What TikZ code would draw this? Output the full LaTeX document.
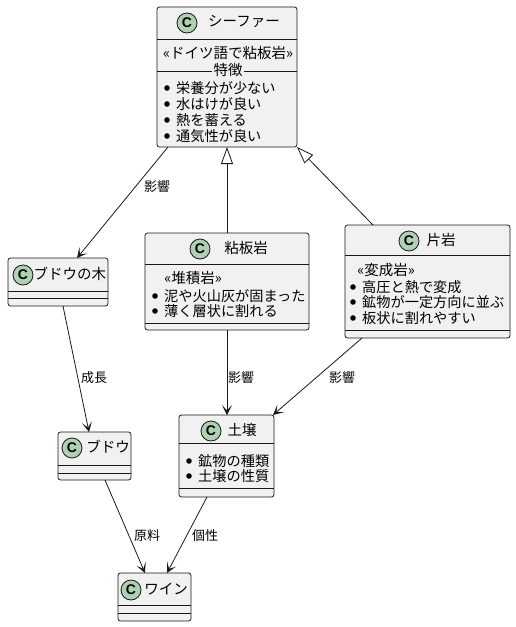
\documentclass[tikz,border=0pt]{standalone}
\usepackage{fontspec}
\setmainfont{Noto Sans CJK JP}
\newfontfamily\spotfont{Liberation Sans}
\usetikzlibrary{arrows.meta,calc}
\definecolor{boxfill}{HTML}{F1F1F1}
\definecolor{linecol}{HTML}{181818}
\definecolor{spotgreen}{HTML}{ADD1B2}
\begin{document}
\begin{tikzpicture}[x=1pt,y=-1pt,
  box/.style={draw=linecol, fill=boxfill, line width=0.8pt, rounded corners=2.5pt, inner sep=0pt, outer sep=0pt, anchor=north west},
  spot/.style={circle, draw=linecol, fill=spotgreen, line width=0.8pt, minimum size=20pt, inner sep=0pt, font=\spotfont\bfseries\fontsize{14}{14}\selectfont},
  title/.style={inner sep=0pt, font=\fontsize{14.5}{16}\selectfont, text=black},
  mem/.style={inner sep=0pt, anchor=west, font=\fontsize{14.2}{16}\selectfont, text=black},
  lab/.style={inner sep=0pt, font=\fontsize{13}{15}\selectfont, text=black},
  sep/.style={draw=linecol, line width=0.8pt},
  dep/.style={draw=linecol, line width=0.8pt, -{Stealth[length=10pt,width=10pt,inset=5.5pt]}},
  inh/.style={draw=linecol, line width=0.8pt, -{Triangle[open,length=17pt,width=12pt,fill=white]}},
  bul/.style={fill=black}
]
\useasboundingbox (0,0) rectangle (516,627);

% ---- シーファー
\node[box, minimum width=140pt, minimum height=140pt] (sch) at (157,7) {};
\node[spot] (schC) at (187,23) {C};
\node[title] (schT) at (244,22) {シーファー};
\draw[sep] (157,39) -- (297,39);
\node[title] (schS) at (228,53) {«ドイツ語で粘板岩»};
\draw[sep] (157,71) -- (212,71);
\draw[sep] (244,71) -- (297,71);
\node[title] (schF) at (228,70) {特徴};
\fill[bul] (167,88) circle (2.8pt);
\node[mem] at (176,88) {栄養分が少ない};
\fill[bul] (167,104) circle (2.8pt);
\node[mem] at (176,104) {水はけが良い};
\fill[bul] (167,120) circle (2.8pt);
\node[mem] at (176,120) {熱を蓄える};
\fill[bul] (167,136) circle (2.8pt);
\node[mem] at (176,136) {通気性が良い};

% ---- 粘板岩
\node[box, minimum width=164pt, minimum height=97pt] (slate) at (145,233) {};
\node[spot] at (200,249) {C};
\node[title] at (246,248) {粘板岩};
\draw[sep] (145,264) -- (309,264);
\node[title] at (193,278) {«堆積岩»};
\fill[bul] (155,296) circle (2.8pt);
\node[mem] at (164,296) {泥や火山灰が固まった};
\fill[bul] (155,311) circle (2.8pt);
\node[mem] at (164,311) {薄く層状に割れる};
\draw[sep] (145,323) -- (309,323);

% ---- ブドウの木
\node[box, minimum width=100pt, minimum height=48pt] (tree) at (8,258) {};
\node[spot] at (23,275) {C};
\node[title] at (70,274) {ブドウの木};
\draw[sep] (8,291) -- (108,291);
\draw[sep] (8,298) -- (108,298);

% ---- 片岩
\node[box, minimum width=165pt, minimum height=113pt] (schist) at (345,225) {};
\node[spot] at (409,241) {C};
\node[title] at (441,240) {片岩};
\draw[sep] (345,255) -- (510,255);
\node[title] at (386,270) {«変成岩»};
\fill[bul] (353,287) circle (2.8pt);
\node[mem] at (362,287) {高圧と熱で変成};
\fill[bul] (353,302) circle (2.8pt);
\node[mem] at (362,302) {鉱物が一定方向に並ぶ};
\fill[bul] (353,318) circle (2.8pt);
\node[mem] at (362,318) {板状に割れやすい};
\draw[sep] (345,330) -- (510,330);

% ---- ブドウ
\node[box, minimum width=73pt, minimum height=48pt] (grape) at (58,432) {};
\node[spot] at (72,448) {C};
\node[title] at (108,447) {ブドウ};
\draw[sep] (58,465) -- (131,465);
\draw[sep] (58,473) -- (131,473);

% ---- 土壌
\node[box, minimum width=95pt, minimum height=82pt] (soil) at (179,415) {};
\node[spot] at (211,431) {C};
\node[title] at (242,430) {土壌};
\draw[sep] (179,443) -- (274,443);
\fill[bul] (189,461) circle (2.8pt);
\node[mem] at (198,461) {鉱物の種類};
\fill[bul] (189,476) circle (2.8pt);
\node[mem] at (198,476) {土壌の性質};
\draw[sep] (179,488) -- (274,488);

% ---- ワイン
\node[box, minimum width=73pt, minimum height=48pt] (wine) at (118,573) {};
\node[spot] at (131,590) {C};
\node[title] at (166,589) {ワイン};
\draw[sep] (118,605) -- (191,605);
\draw[sep] (118,613) -- (191,613);

% ---- connectors
\draw[inh] (slate.north) -- (slate.north |- sch.south);
\draw[inh] ([xshift=28pt]schist.north west) -- (sch.south east);
\draw[dep] ([xshift=11pt]sch.south west) -- ([xshift=69pt]tree.north west);
\node[lab] at (157,187) {影響};
\draw[dep] ([xshift=55pt]tree.south west) -- ([xshift=31pt]grape.north west);
\node[lab] at (94,378) {成長};
\draw[dep] (slate.south) -- (slate.south |- soil.north);
\node[lab] at (241,378) {影響};
\draw[dep] ([xshift=17pt]schist.south west) -- ([xshift=-1pt]soil.north east);
\node[lab] at (342,378) {影響};
\draw[dep] ([xshift=47pt]grape.south west) -- ([xshift=27pt]wine.north west);
\node[lab] at (147,536) {原料};
\draw[dep] ([xshift=28pt]soil.south west) -- ([xshift=49pt]wine.north west);
\node[lab] at (205,536) {個性};
\end{tikzpicture}
\end{document}
